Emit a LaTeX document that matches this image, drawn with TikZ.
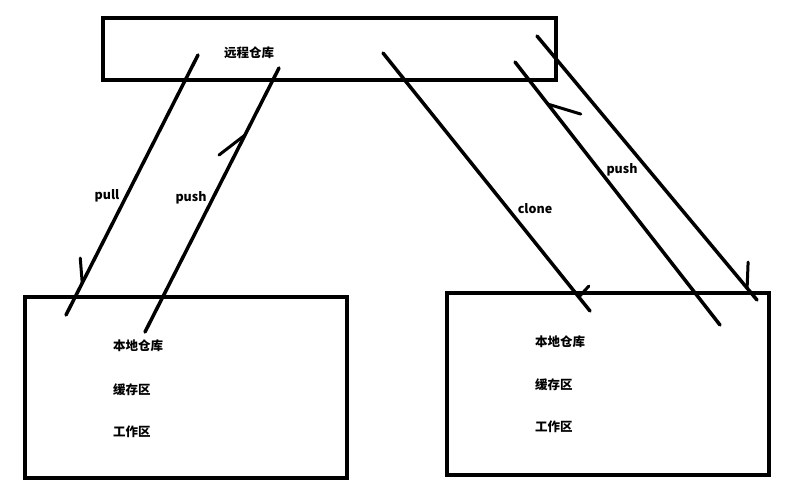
\documentclass[tikz,border=0pt]{standalone}
\usepackage{fontspec}
\setmainfont{Noto Sans CJK SC}
\usetikzlibrary{positioning,calc}
\tikzset{
  repo/.style={
    draw,
    rectangle,
    line width=3.5pt,
    inner sep=0pt
  },
  wire/.style={
    line width=3.5pt,
    line cap=round
  },
  barb/.style={
    line width=3pt,
    line cap=round
  },
  lbl/.style={
    font=\bfseries\fontsize{12.5}{14}\selectfont,
    inner sep=1pt
  },
  item/.style={
    lbl,
    anchor=west
  }
}

\begin{document}
\begin{tikzpicture}[x=1pt, y=-1pt]
\useasboundingbox (0,0) rectangle (791,497);

% repositories
\node[repo, minimum width=453pt, minimum height=62pt] (remote) at (329.5,49) {};
\node[repo, minimum width=322pt, minimum height=181pt] (localA) at (186,387.5) {};
\node[repo, minimum width=322pt, minimum height=182pt] (localB) at (608,384) {};

\node[lbl] (remotelbl) at (249,53) {远程仓库};

\node[item] (repoA) at (112,346) {本地仓库};
\node[item] (stageA) at (112,390) {缓存区};
\node[item] (workA) at (112,432) {工作区};

\node[item] (repoB) at (534,342) {本地仓库};
\node[item] (stageB) at (534,385) {缓存区};
\node[item] (workB) at (534,427) {工作区};

% line ends
\coordinate (pullS) at (198,55);
\coordinate (pullE) at (66,315);
\coordinate (pushAS) at (145,332);
\coordinate (pushAE) at (279,68);
\coordinate (cloneS) at (383,53);
\coordinate (cloneE) at (590,311);
\coordinate (pushBS) at (720,325);
\coordinate (pushBE) at (515,62);
\coordinate (pullBS) at (537,36);
\coordinate (pullBE) at (757,300);

\draw[wire] (pullS) -- coordinate[pos=0.877] (pullTip) (pullE);
\draw[barb] (pullTip) -- ++(-2,-25);
\draw[wire] (pushAS) -- coordinate[pos=0.746] (pushATip) (pushAE);
\draw[barb] (pushATip) -- ++(-26,20);
\draw[wire] (cloneS) -- coordinate[pos=0.946] (cloneTip) (cloneE);
\draw[barb] (cloneTip) -- ++(10,-11);
\draw[wire] (pushBS) -- coordinate[pos=0.840] (pushBTip) (pushBE);
\draw[barb] (pushBTip) -- ++(33,10);
\draw[wire] (pullBS) -- coordinate[pos=0.955] (pullBTip) (pullBE);
\draw[barb] (pullBTip) -- ++(1,-26);

\node[lbl] (pulllbl) at (107,196) {pull};
\node[lbl] (pushAlbl) at (191,198) {push};
\node[lbl] (clonelbl) at (535,209) {clone};
\node[lbl] (pushBlbl) at (622,170) {push};

\end{tikzpicture}
\end{document}
